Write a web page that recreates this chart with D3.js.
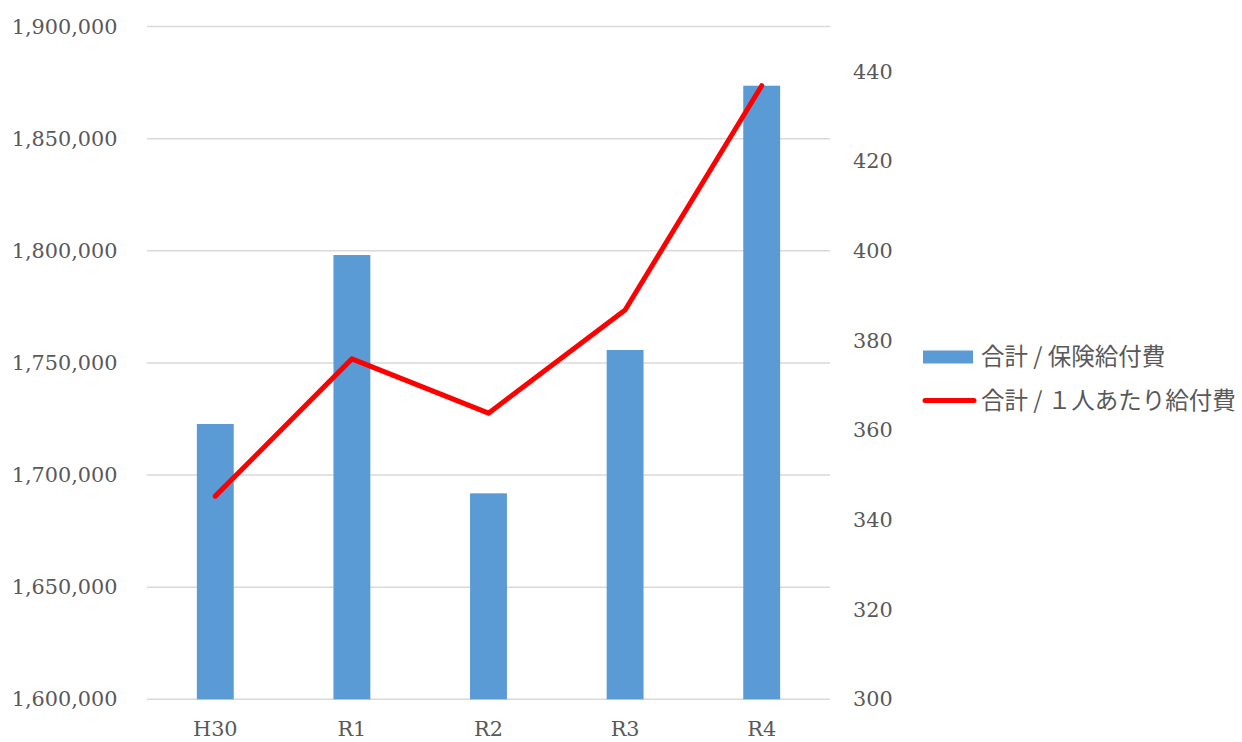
<!DOCTYPE html>
<html>
<head>
<meta charset="utf-8">
<script src="https://cdn.jsdelivr.net/npm/d3@7/dist/d3.min.js"></script>
<style>
  html, body { margin: 0; padding: 0; background: #ffffff; }
  svg { display: block; }
</style>
</head>
<body>
<svg id="chart" width="1242" height="742"></svg>
<script>
// Fiscal years
const categories = ["H30", "R1", "R2", "R3", "R4"];
// 合計 / 保険給付費 (left axis)
const benefitTotal = [1722750, 1798100, 1691850, 1755750, 1873600];
// 合計 / １人あたり給付費 (right axis)
const benefitPerPerson = [345.3, 375.9, 363.8, 386.8, 436.8];
// Axis ticks
const leftTicks = [1600000, 1650000, 1700000, 1750000, 1800000, 1850000, 1900000];
const rightTicks = [300, 320, 340, 360, 380, 400, 420, 440];
// Legend labels
const legendLabels = ["合計 / 保険給付費", "合計 / １人あたり給付費"];

const svg = d3.select("#chart");
const plot = { left: 147, right: 830, top: 26.5, bottom: 699.3 };
const serif = "'DejaVu Serif', serif";
const textColor = "#595959";

const x = d3.scaleBand().domain(categories).range([plot.left, plot.right]).padding(0);
const yLeft = d3.scaleLinear().domain([1600000, 1900000]).range([plot.bottom, plot.top]);
const yRight = d3.scaleLinear().domain([300, 450]).range([plot.bottom, plot.top]);

// Horizontal gridlines from the left axis
svg.append("g")
  .selectAll("line")
  .data(leftTicks)
  .join("line")
  .attr("x1", plot.left).attr("x2", plot.right)
  .attr("y1", d => yLeft(d)).attr("y2", d => yLeft(d))
  .attr("stroke", "#d9d9d9").attr("stroke-width", 1.5);

// Left axis labels
const fmt = d3.format(",");
const leftAxis = d3.axisLeft(yLeft).tickValues(leftTicks).tickFormat(fmt).tickSize(0).tickPadding(0);
const gL = svg.append("g").attr("transform", "translate(117.5,0)").call(leftAxis);
gL.select(".domain").remove();
gL.selectAll("text").attr("font-family", serif).attr("font-size", 20.8).attr("fill", textColor);

// Right axis labels
const rightAxis = d3.axisRight(yRight).tickValues(rightTicks).tickSize(0).tickPadding(0);
const gR = svg.append("g").attr("transform", "translate(853,0)").call(rightAxis);
gR.select(".domain").remove();
gR.selectAll("text").attr("font-family", serif).attr("font-size", 20.8).attr("fill", textColor);

// Category labels
const bottomAxis = d3.axisBottom(x).tickSize(0).tickPadding(0);
const gB = svg.append("g").attr("transform", "translate(0,721.5)").call(bottomAxis);
gB.select(".domain").remove();
gB.selectAll("text").attr("font-family", serif).attr("font-size", 20.8).attr("fill", textColor);

// Bars
const barW = x.bandwidth() * 0.27;
svg.append("g")
  .selectAll("rect")
  .data(categories)
  .join("rect")
  .attr("x", d => x(d) + x.bandwidth() / 2 - barW / 2)
  .attr("width", barW)
  .attr("y", (d, i) => yLeft(benefitTotal[i]))
  .attr("height", (d, i) => yLeft(1600000) - yLeft(benefitTotal[i]))
  .attr("fill", "#5b9bd5");

// Per-person line
const line = d3.line()
  .x((d, i) => x(categories[i]) + x.bandwidth() / 2)
  .y(d => yRight(d));
svg.append("path")
  .datum(benefitPerPerson)
  .attr("d", line)
  .attr("fill", "none")
  .attr("stroke", "#ff0000")
  .attr("stroke-width", 5)
  .attr("stroke-linejoin", "round")
  .attr("stroke-linecap", "round");

// Legend
const jp = "'Noto Sans CJK JP', sans-serif";
const lg = svg.append("g");
lg.append("rect").attr("x", 923).attr("y", 350.5).attr("width", 50).attr("height", 13).attr("fill", "#5b9bd5");
lg.append("line").attr("x1", 925).attr("x2", 974).attr("y1", 400.5).attr("y2", 400.5)
  .attr("stroke", "#ff0000").attr("stroke-width", 5).attr("stroke-linecap", "round");
lg.selectAll("text")
  .data(legendLabels)
  .join("text")
  .attr("x", 981)
  .attr("y", (d, i) => 357 + i * 44)
  .attr("dy", "0.35em")
  .attr("font-family", jp)
  .attr("font-size", 23.5)
  .attr("fill", textColor)
  .text(d => d);
</script>
</body>
</html>
